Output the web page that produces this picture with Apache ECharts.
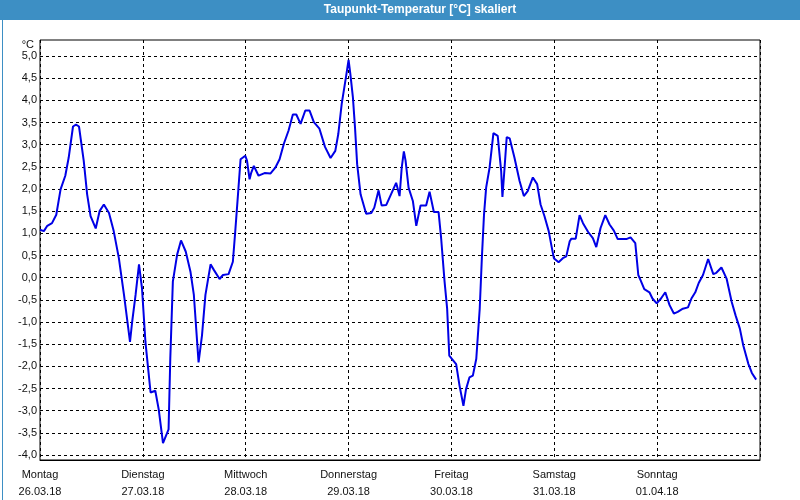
<!DOCTYPE html>
<html>
<head>
<meta charset="utf-8">
<script src="https://cdn.jsdelivr.net/npm/echarts@6/dist/echarts.min.js"></script>
<style>html,body{margin:0;padding:0;background:#fff}#c{width:800px;height:500px}</style>
</head>
<body>
<div id="c"></div>
<script>
const dayNames = ['Montag','Dienstag','Mittwoch','Donnerstag','Freitag','Samstag','Sonntag'];
const dayDates = ['26.03.18','27.03.18','28.03.18','29.03.18','30.03.18','31.03.18','01.04.18'];
const hours = [0,0.9,1.7,2.8,3.8,4.8,5.9,6.7,7.7,8.4,9.1,10.2,11.0,11.8,13.0,13.9,14.9,16.1,17.2,18.4,19.6,21.0,21.5,22.3,23.1,23.8,24.6,25.8,26.9,27.7,28.7,30.0,30.4,31.0,32.0,32.9,34.0,35.1,35.9,37.0,37.8,38.6,39.8,40.6,41.9,42.7,44.0,45.0,45.5,46.2,46.8,47.9,48.3,48.9,49.3,49.9,51.0,52.4,53.8,54.9,55.9,56.9,58.0,59.0,59.8,60.8,61.9,62.9,63.9,65.2,66.5,67.8,68.9,69.6,70.4,71.4,72.0,72.4,73.0,73.5,74.0,74.8,76.1,77.3,78.0,79.0,79.7,80.8,81.9,83.1,83.9,84.4,84.9,85.3,86.0,87.0,87.8,88.8,90.1,90.9,91.9,93.0,93.6,94.4,95.0,95.5,96.1,97.1,97.9,98.8,99.4,100.2,101.0,101.8,102.6,103.1,103.6,104.1,104.9,105.8,106.8,107.2,107.6,107.9,108.4,108.9,109.6,110.7,111.9,112.9,113.8,115.0,116.0,116.8,117.7,118.7,119.3,119.9,121.0,122.0,122.8,123.6,124.0,125.0,125.9,126.7,127.9,129.0,129.8,130.8,131.9,132.9,133.9,134.8,136.8,137.8,138.9,139.6,140.1,141.0,142.2,142.9,143.9,144.9,145.9,146.9,147.9,148.8,150.0,151.2,152.0,152.9,153.7,154.7,155.9,157.1,157.8,159.0,160.2,161.4,162.3,163.3,164.1,165.3,166.1,167.1];
const dewpoint = [1.08,1.05,1.17,1.23,1.42,1.99,2.30,2.71,3.41,3.45,3.41,2.64,1.88,1.39,1.11,1.50,1.65,1.46,1.05,0.44,-0.39,-1.45,-1.0,-0.39,0.30,-0.24,-1.45,-2.59,-2.55,-2.97,-3.73,-3.42,-1.83,-0.09,0.52,0.84,0.59,0.14,-0.39,-1.91,-1.30,-0.39,0.30,0.17,-0.03,0.06,0.08,0.36,0.97,1.88,2.67,2.75,2.64,2.22,2.37,2.52,2.30,2.36,2.35,2.48,2.67,3.02,3.32,3.68,3.68,3.47,3.77,3.77,3.51,3.36,2.95,2.70,2.86,3.24,3.92,4.53,4.91,4.61,4.08,3.39,2.56,1.88,1.44,1.46,1.58,1.97,1.63,1.64,1.88,2.14,1.84,2.48,2.85,2.64,2.03,1.73,1.17,1.63,1.63,1.94,1.48,1.48,0.89,-0.09,-0.70,-1.76,-1.83,-1.95,-2.44,-2.89,-2.52,-2.25,-2.21,-1.83,-0.70,0.44,1.42,2.03,2.48,3.26,3.20,3.17,2.41,1.82,2.48,3.17,3.14,2.71,2.18,1.84,1.95,2.26,2.11,1.65,1.39,1.05,0.74,0.44,0.35,0.44,0.48,0.82,0.88,0.88,1.41,1.23,1.03,0.89,0.69,1.12,1.41,1.20,1.06,0.87,0.87,0.91,0.78,0.06,-0.05,-0.26,-0.33,-0.47,-0.58,-0.47,-0.33,-0.62,-0.81,-0.77,-0.70,-0.67,-0.47,-0.33,-0.12,0.06,0.42,0.08,0.11,0.23,-0.02,-0.55,-0.85,-1.15,-1.53,-1.95,-2.15,-2.30];
const yMin = -4, yMax = 5, yStep = 0.5;
const dayHours = 24, totalHours = 168;

const chart = echarts.init(document.getElementById('c'), null, {renderer: 'canvas'});
const fontFam = '"Liberation Sans", Arial, sans-serif';
const dash = {color: '#000', width: 1, type: [3, 3]};
chart.setOption({
  backgroundColor: '#ffffff',
  animation: false,
  graphic: [
    {type: 'rect', left: 0, top: 0, shape: {width: 800, height: 20}, style: {fill: '#3d8fc4'}, z: -1},
    {type: 'rect', left: 0, top: 0, shape: {width: 799, height: 499}, style: {fill: 'none', stroke: '#3d8fc4', lineWidth: 1}, z: -1}
  ],
  title: {
    text: 'Taupunkt-Temperatur [°C] skaliert',
    left: 420, top: 4, textAlign: 'center', padding: 0,
    textStyle: {color: '#fff', fontSize: 12, fontWeight: 'bold', fontFamily: fontFam}
  },
  grid: [
    {left: 40, top: 56, width: 720, height: 399, show: false},
    {left: 40, top: 40, width: 720, height: 421, show: true, borderColor: '#000', borderWidth: 1, backgroundColor: 'transparent'}
  ],
  xAxis: [
    {gridIndex: 0, type: 'value', min: 0, max: totalHours, show: false},
    {
      gridIndex: 1, type: 'value', min: 0, max: totalHours, interval: dayHours,
      axisLine: {show: true, onZero: false, lineStyle: {color: '#000', width: 1}},
      axisTick: {show: false},
      splitLine: {show: true, lineStyle: dash},
      axisLabel: {
        margin: 6, color: '#111', fontSize: 11, fontFamily: fontFam, lineHeight: 17,
        showMaxLabel: false,
        formatter: v => { const i = Math.round(v / dayHours); return i < dayNames.length ? dayNames[i] + '\n' + dayDates[i] : ''; }
      }
    }
  ],
  yAxis: [
    {
      gridIndex: 0, type: 'value', min: yMin, max: yMax, interval: yStep,
      name: '°C', nameLocation: 'end', nameGap: 10,
      nameTextStyle: {color: '#111', fontSize: 11, fontFamily: fontFam, align: 'right', verticalAlign: 'middle', padding: [0, 6, 0, 0]},
      axisLine: {show: false},
      axisTick: {show: false},
      splitLine: {show: true, lineStyle: dash},
      axisLabel: {
        margin: 3, color: '#111', fontSize: 11, fontFamily: fontFam,
        formatter: v => v.toFixed(1).replace('.', ',')
      }
    },
    {gridIndex: 1, type: 'value', min: 0, max: 1, show: false}
  ],
  series: [{
    type: 'line',
    xAxisIndex: 0, yAxisIndex: 0,
    data: hours.map((h, i) => [h, dewpoint[i]]),
    showSymbol: false, symbol: 'none',
    lineStyle: {color: '#0000e6', width: 2},
    z: 5
  }]
});
</script>
</body>
</html>
